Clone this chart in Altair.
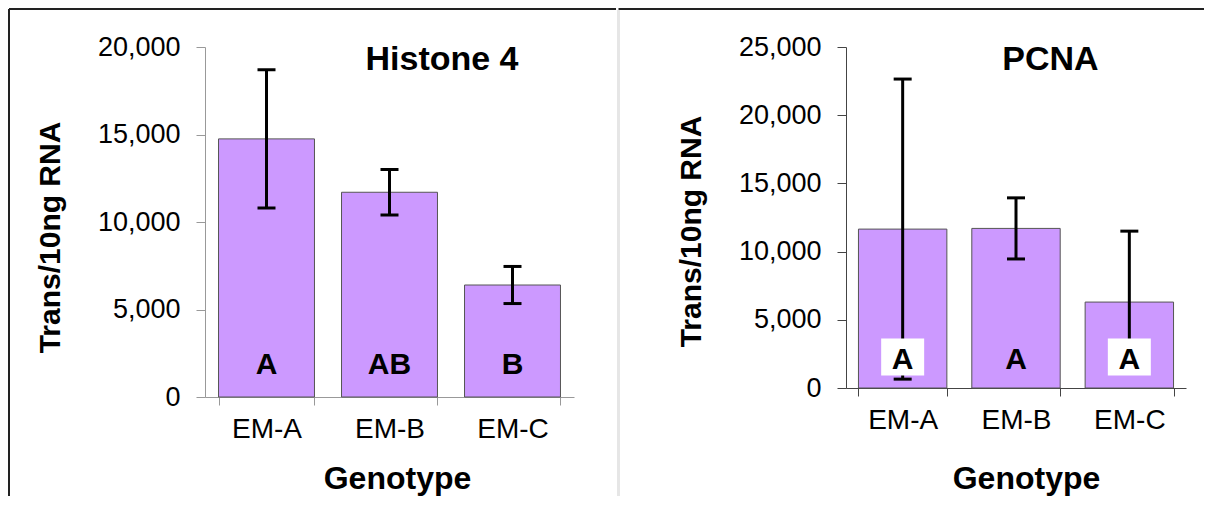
import altair as alt
import pandas as pd

genotypes = ["EM-A", "EM-B", "EM-C"]
h4_mean = [14750, 11700, 6400]
h4_err = [3950, 1300, 1060]
h4_letters = ["A", "AB", "B"]
h4_boxed = [False, False, False]
h4_ticks = [0, 5000, 10000, 15000, 20000]

pcna_mean = [11650, 11700, 6300]
pcna_err = [11000, 2240, 5200]
pcna_letters = ["A", "A", "A"]
pcna_boxed = [True, False, True]
pcna_ticks = [0, 5000, 10000, 15000, 20000, 25000]

FONT = "Liberation Sans"
BOX = "M-1,-0.86H1V0.86H-1Z"


def panel(title, means, errs, letters, boxed, ticks, ymax, width, height, axis_color,
          title_dx, xtitle_x, xtitle_y, ytitle_y, letter_dy, deco):
    df = pd.DataFrame({
        "g": genotypes,
        "m": means,
        "lo": [m - e for m, e in zip(means, errs)],
        "hi": [m + e for m, e in zip(means, errs)],
        "letter": letters,
        "boxed": boxed,
    })
    base = alt.Chart(df)
    xaxis = alt.Axis(
        title="Genotype", labelAngle=0, tickBand="extent", tickSize=8,
        labelPadding=10, labelFont=FONT, labelFontSize=28, labelColor="black",
        domainColor=axis_color, tickColor=axis_color,
        titleFont=FONT, titleFontSize=32, titleFontWeight="bold", titleColor="black",
        titleX=xtitle_x, titleY=xtitle_y, titleAlign="center", titleBaseline="alphabetic",
    )
    yaxis = alt.Axis(
        title="Trans/10ng RNA", values=ticks, format=",d", grid=False,
        tickSize=9, labelPadding=16, labelFont=FONT, labelFontSize=27, labelColor="black",
        domainColor=axis_color, tickColor=axis_color,
        titleFont=FONT, titleFontSize=30, titleFontWeight="bold", titleColor="black",
        titleX=-155, titleY=ytitle_y, titleAngle=270, titleAlign="center",
        titleBaseline="middle",
    )
    xs = alt.Scale(paddingInner=0.22, paddingOuter=0.11)
    ys = alt.Scale(domain=[0, ymax], nice=False)
    x = alt.X("g:N", sort=genotypes, scale=xs, axis=xaxis)
    bars = base.mark_bar(fill="#cc99ff", stroke="#555555", strokeWidth=1).encode(
        x=x, y=alt.Y("m:Q", scale=ys, axis=yaxis)
    )
    rule = base.mark_rule(color="black", strokeWidth=3).encode(
        x=alt.X("g:N", sort=genotypes),
        y=alt.Y("lo:Q", title="Trans/10ng RNA"),
        y2="hi:Q",
    )
    cap_lo = base.mark_tick(color="black", size=18, thickness=3, opacity=1).encode(
        x=alt.X("g:N", sort=genotypes), y=alt.Y("lo:Q", title="Trans/10ng RNA")
    )
    cap_hi = base.mark_tick(color="black", size=18, thickness=3, opacity=1).encode(
        x=alt.X("g:N", sort=genotypes), y=alt.Y("hi:Q", title="Trans/10ng RNA")
    )
    boxes = base.transform_filter("datum.boxed").mark_point(
        shape=BOX, size=1849, filled=True, color="white", opacity=1,
        strokeWidth=0, yOffset=-31,
    ).encode(x=alt.X("g:N", sort=genotypes), y=alt.datum(0))
    text = base.mark_text(
        font=FONT, fontSize=30, fontWeight="bold", color="black",
        baseline="alphabetic", dy=letter_dy,
    ).encode(x=alt.X("g:N", sort=genotypes), y=alt.datum(0), text="letter:N")

    one = alt.Chart(pd.DataFrame({"k": [0]}))
    deco_layers = []
    for (x1, x2, y1, y2, col, w) in deco:
        deco_layers.append(
            one.mark_rule(color=col, strokeWidth=w).encode(
                x=alt.value(x1), x2=alt.value(x2), y=alt.value(y1), y2=alt.value(y2)
            )
        )
    return alt.layer(bars, rule, cap_lo, cap_hi, boxes, text, *deco_layers).properties(
        width=width,
        height=height,
        title=alt.TitleParams(
            text=title, font=FONT, fontSize=34, fontWeight="bold", color="black",
            anchor="middle", frame="group", offset=0, dx=title_dx, dy=96,
            baseline="alphabetic",
        ),
    )


left = panel(
    "Histone 4", h4_mean, h4_err, h4_letters, h4_boxed, h4_ticks, 20000, 369, 350,
    "#999999", 52.5, 192, 91, 190, -23,
    deco=[(-196, 411, -38, -38, "#222222", 2), (-196, -196, -38, 449, "#222222", 2)],
)
right = panel(
    "PCNA", pcna_mean, pcna_err, pcna_letters, pcna_boxed, pcna_ticks, 25000, 340, 341,
    "#444444", 34.5, 180, 100, 184, -19,
    deco=[(-227.5, 358, -38, -38, "#222222", 2), (-227.5, -227.5, -37, 449, "#e6e6e6", 3)],
)

chart = alt.hconcat(left, right, spacing=0).properties(
    padding=0, background="white"
).configure_view(stroke=None)

chart.save("out.html", embed_options={"renderer": "svg", "actions": False})
